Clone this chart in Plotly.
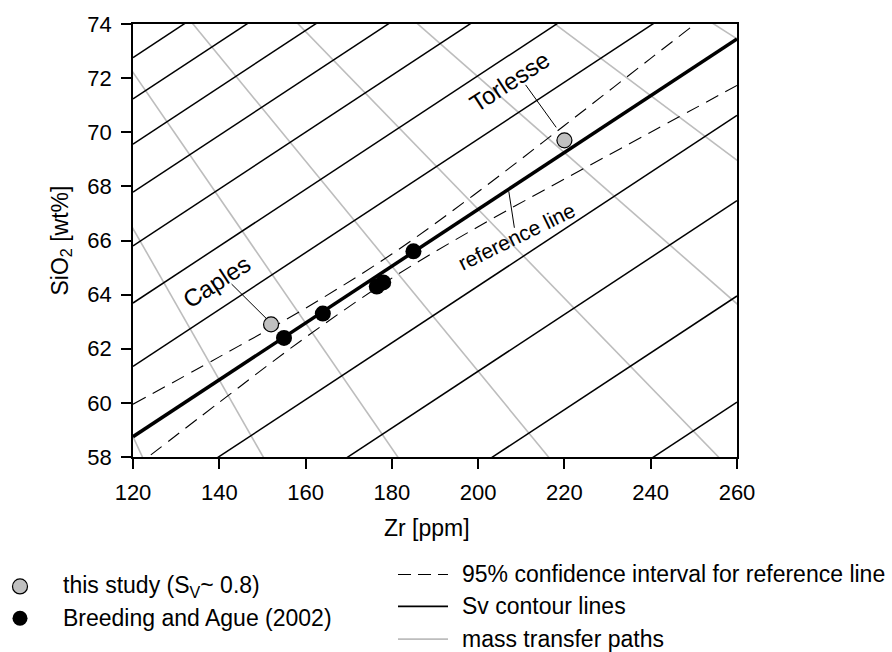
import plotly.graph_objects as go

# ---------------- data ----------------
# samples
zr_this = [152, 220]
sio2_this = [62.9, 69.7]
zr_ba = [155, 164, 176.5, 178, 185]
sio2_ba = [62.4, 63.3, 64.3, 64.45, 65.6]

# reference line (end points)
ref_zr = [120, 260]
ref_sio2 = [58.75, 73.45]

# 95% confidence interval of the reference line
ci_zr = [120, 140, 160, 180, 200, 220, 240, 260]
ci_upper = [59.95, 61.70, 63.50, 65.50, 67.80, 70.25, 72.73, 75.20]
ci_lower = [57.57, 60.02, 62.42, 64.61, 66.51, 68.27, 70.00, 71.73]

# Sv contour lines: SiO2 value at Zr = 120 and at Zr = 260
contour_zr = [120, 260]
contour_sio2_120 = [72.76, 71.23, 69.56, 67.79, 65.80, 63.69, 61.35, 55.92, 52.77, 49.25, 45.33]
contour_sio2_260 = [87.46, 85.93, 84.26, 82.49, 80.50, 78.39, 76.05, 70.62, 67.47, 63.95, 60.03]

# mass transfer paths: straight lines from the pole through points of the reference line
pole_zr, pole_sio2 = 0, 100
path_zr = [120, 140, 160, 180, 200, 220, 240, 260]
path_sio2 = [58.75, 60.85, 62.95, 65.05, 67.15, 69.25, 71.35, 73.45]

x_ticks = [120, 140, 160, 180, 200, 220, 240, 260]
y_ticks = [58, 60, 62, 64, 66, 68, 70, 72, 74]

FONT = "Liberation Sans, Arial, sans-serif"
GRAY = "#bdbdbd"

fig = go.Figure()

# mass transfer paths (gray)
for zr, si in zip(path_zr, path_sio2):
    xs = [pole_zr, pole_zr + 2 * (zr - pole_zr)]
    ys = [pole_sio2, pole_sio2 + 2 * (si - pole_sio2)]
    fig.add_trace(go.Scatter(x=xs, y=ys, mode="lines",
                             line=dict(color=GRAY, width=1.6),
                             showlegend=False, hoverinfo="skip"))

# Sv contour lines (black)
for a, b in zip(contour_sio2_120, contour_sio2_260):
    fig.add_trace(go.Scatter(x=contour_zr, y=[a, b], mode="lines",
                             line=dict(color="black", width=1.5),
                             showlegend=False, hoverinfo="skip"))

# confidence interval
for ys in (ci_upper, ci_lower):
    fig.add_trace(go.Scatter(x=ci_zr, y=ys, mode="lines",
                             line=dict(color="black", width=1.1, dash="14px,8px",
                                       shape="spline", smoothing=1),
                             showlegend=False, hoverinfo="skip"))

# reference line
fig.add_trace(go.Scatter(x=ref_zr, y=ref_sio2, mode="lines",
                         line=dict(color="black", width=3.5),
                         showlegend=False, hoverinfo="skip"))

# leader lines (label -> point)
leaders = [
    ((142.85, 64.39), (150.95, 63.11)),
    ((211.0, 71.75), (218.1, 70.18)),
    ((207.1, 67.82), (208.4, 66.47)),
]
for (x0, y0), (x1, y1) in leaders:
    fig.add_shape(type="line", xref="x", yref="y", x0=x0, y0=y0, x1=x1, y1=y1,
                  line=dict(color="black", width=1))

# points
fig.add_trace(go.Scatter(x=zr_ba, y=sio2_ba, mode="markers",
                         marker=dict(color="black", size=16, line=dict(width=0)),
                         showlegend=False))
fig.add_trace(go.Scatter(x=zr_this, y=sio2_this, mode="markers",
                         marker=dict(color="#c0c0c0", size=15,
                                     line=dict(color="black", width=1.2)),
                         showlegend=False))

# labels in the plot
labels = [
    ("Caples", 139.4, 64.5, -33, 24),
    ("Torlesse", 207.3, 71.87, -33, 24),
    ("reference line", 208.9, 66.15, -26, 21),
]
for t, x, y, ang, fs in labels:
    fig.add_annotation(x=x, y=y, xref="x", yref="y", text=t, textangle=ang,
                       xanchor="center", yanchor="middle",
                       showarrow=False, font=dict(family=FONT, size=fs, color="black"))

# ---------------- layout ----------------
L, R, T, B = 133, 155, 22, 195
W, H = 892, 652
PW, PH = W - L - R, H - T - B


def px(xp):
    return (xp - L) / PW


def py(yp):
    return (H - B - yp) / PH


# axis titles
fig.add_annotation(x=px(427), y=py(528), xref="paper", yref="paper", text="Zr [ppm]",
                   xanchor="center", yanchor="middle",
                   showarrow=False, font=dict(family=FONT, size=23, color="black"))
fig.add_annotation(x=px(61), y=0.5, xref="paper", yref="paper",
                   text="SiO<sub>2</sub> [wt%]", textangle=-90,
                   xanchor="center", yanchor="middle",
                   showarrow=False, font=dict(family=FONT, size=23, color="black"))

# legend (left: markers)
leg_left = [
    ("this study (S<sub>V</sub>~ 0.8)", "#c0c0c0", 1.2, 587),
    ("Breeding and Ague (2002)", "black", 0, 619),
]
for text, col, lw, yy in leg_left:
    r = 7.5
    fig.add_shape(type="circle", xref="paper", yref="paper",
                  xsizemode="pixel", ysizemode="pixel",
                  xanchor=px(20), yanchor=py(yy),
                  x0=-r, x1=r, y0=-r, y1=r,
                  fillcolor=col, line=dict(color="black", width=lw))
    fig.add_annotation(x=px(61), y=py(yy), xref="paper", yref="paper", text=text,
                       xanchor="left", yanchor="middle", showarrow=False,
                       font=dict(family=FONT, size=23, color="black"))

# legend (right: lines)
leg_right = [
    ("95% confidence interval for reference line", "black", 1.1, "13px,7px", 575),
    ("Sv contour lines", "black", 1.8, "solid", 607),
    ("mass transfer paths", GRAY, 1.8, "solid", 640),
]
for text, col, lw, dash, yy in leg_right:
    fig.add_shape(type="line", xref="paper", yref="paper",
                  x0=px(398), x1=px(448), y0=py(yy), y1=py(yy),
                  line=dict(color=col, width=lw, dash=dash))
    fig.add_annotation(x=px(460), y=py(yy), xref="paper", yref="paper", text=text,
                       xanchor="left", yanchor="middle", showarrow=False,
                       font=dict(family=FONT, size=23, color="black"))

axis_common = dict(showgrid=False, zeroline=False, showline=True, linecolor="black",
                   linewidth=1.6, mirror=True, ticks="outside", ticklen=10,
                   tickwidth=1.5, tickcolor="black", ticklabelstandoff=5,
                   tickfont=dict(family=FONT, size=22, color="black"))

fig.update_layout(
    width=W, height=H,
    margin=dict(l=L, r=R, t=T, b=B, pad=0),
    paper_bgcolor="white", plot_bgcolor="white",
    showlegend=False,
    xaxis=dict(range=[120, 260], tickvals=x_ticks, **axis_common),
    yaxis=dict(range=[58, 74], tickvals=y_ticks, **axis_common),
)

fig.write_html("out.html")
